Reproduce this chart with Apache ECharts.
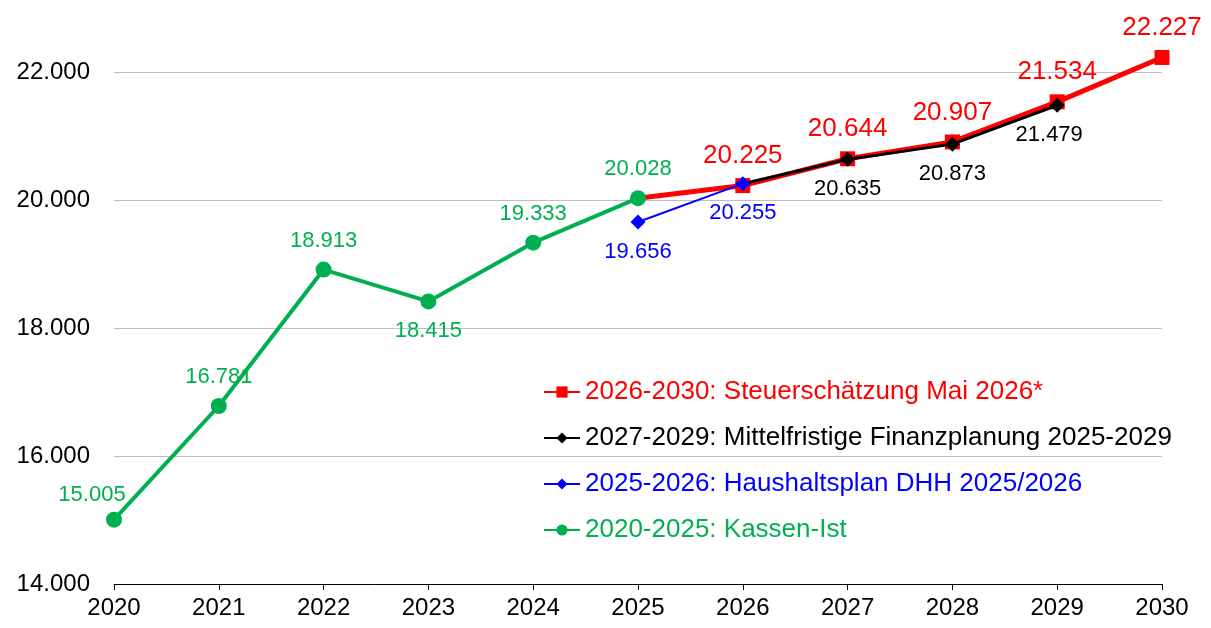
<!DOCTYPE html>
<html>
<head>
<meta charset="utf-8">
<script src="https://cdn.jsdelivr.net/npm/echarts@6/dist/echarts.min.js"></script>
<style>
  html, body { margin: 0; padding: 0; background: #fff; }
  #chart { width: 1211px; height: 628px; }
</style>
</head>
<body>
<div id="chart"></div>
<script>
const years = ["2020", "2021", "2022", "2023", "2024", "2025", "2026", "2027", "2028", "2029", "2030"];
// Kassen-Ist 2020-2025
const kassenIst = [15005, 16781, 18913, 18415, 19333, 20028, null, null, null, null, null];
// Haushaltsplan 2025/2026
const haushalt = [null, null, null, null, null, 19656, 20255, null, null, null, null];
// Mittelfristige Finanzplanung (line starts at 2026 plan value)
const finanzplanung = [null, null, null, null, null, null, 20255, 20635, 20873, 21479, null];
// Steuerschätzung Mai 2026 (line starts at 2025 Ist value)
const steuer = [null, null, null, null, null, 20028, 20225, 20644, 20907, 21534, 22227];

const names = [
  "2026-2030: Steuerschätzung Mai 2026*",
  "2027-2029: Mittelfristige Finanzplanung 2025-2029",
  "2025-2026: Haushaltsplan DHH 2025/2026",
  "2020-2025: Kassen-Ist"
];
const colors = ["#ff0000", "#000000", "#0000ff", "#00b050"];
const font = "Liberation Sans, Arial, sans-serif";

const fmt = v => {
  const n = typeof v === "number" ? v : v.value;
  return n.toLocaleString("de-DE");
};

// hide marker + label on the connecting point of a series
function points(arr, hideIdx, labelOpts) {
  return arr.map((v, i) => {
    if (v === null) return null;
    const item = { value: v };
    if (i === hideIdx) {
      item.symbol = "none";
      item.label = { show: false };
    } else if (labelOpts && labelOpts[i]) {
      item.label = labelOpts[i];
    }
    return item;
  });
}

const chart = echarts.init(document.getElementById("chart"));
chart.setOption({
  animation: false,
  textStyle: { fontFamily: font },
  grid: { left: 114, right: 49, top: 72, bottom: 44 },
  legend: {
    orient: "vertical",
    left: 538,
    top: 374,
    itemGap: 20,
    itemWidth: 36,
    itemHeight: 14,
    data: names.map((n, i) => ({ name: n, textStyle: { color: colors[i] } })),
    textStyle: { fontSize: 26, fontFamily: font }
  },
  xAxis: {
    type: "category",
    data: years,
    boundaryGap: false,
    axisLine: { lineStyle: { color: "#000", width: 1 } },
    axisTick: { alignWithLabel: true, length: 6, lineStyle: { color: "#000" } },
    axisLabel: { color: "#000", fontSize: 24, margin: 12, fontFamily: font }
  },
  yAxis: {
    type: "value",
    min: 14000,
    max: 22000,
    interval: 2000,
    axisLine: { show: false },
    axisTick: { show: false },
    axisLabel: { color: "#000", fontSize: 24, margin: 24, fontFamily: font, formatter: v => v.toLocaleString("de-DE") },
    splitLine: { lineStyle: { color: "#bfbfbf", width: 1 } }
  },
  series: [
    {
      name: names[0],
      type: "line",
      clip: false,
      z: 2,
      data: points(steuer, 5),
      symbol: "rect",
      symbolSize: 15,
      itemStyle: { color: colors[0] },
      lineStyle: { color: colors[0], width: 5 },
      label: { show: true, position: "top", distance: 9, color: colors[0], fontSize: 26, fontFamily: font, formatter: fmt }
    },
    {
      name: names[1],
      type: "line",
      z: 3,
      data: points(finanzplanung, 6, { 9: { offset: [-8, 0] } }),
      symbol: "diamond",
      symbolSize: 15,
      itemStyle: { color: colors[1] },
      lineStyle: { color: colors[1], width: 3 },
      label: { show: true, position: "bottom", distance: 11, color: colors[1], fontSize: 22, fontFamily: font, formatter: fmt }
    },
    {
      name: names[2],
      type: "line",
      z: 4,
      data: points(haushalt, -1),
      symbol: "diamond",
      symbolSize: 15,
      itemStyle: { color: colors[2] },
      lineStyle: { color: colors[2], width: 2 },
      label: { show: true, position: "bottom", distance: 11, color: colors[2], fontSize: 22, fontFamily: font, formatter: fmt }
    },
    {
      name: names[3],
      type: "line",
      z: 5,
      data: points(kassenIst, -1, {
        0: { offset: [-22, 4] },
        3: { position: "bottom" }
      }),
      symbol: "circle",
      symbolSize: 16,
      itemStyle: { color: colors[3] },
      lineStyle: { color: colors[3], width: 4 },
      label: { show: true, position: "top", distance: 10, color: colors[3], fontSize: 22, fontFamily: font, formatter: fmt }
    }
  ]
});
</script>
</body>
</html>
